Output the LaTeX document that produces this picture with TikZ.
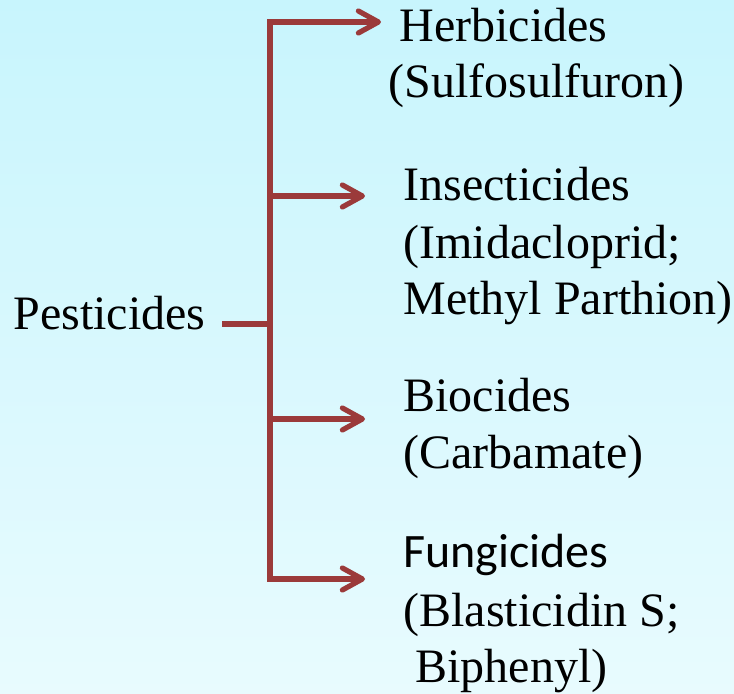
\documentclass[tikz,border=0pt]{standalone}
\usepackage{fontspec}
\setmainfont{Liberation Serif}
\newfontfamily\calib{Carlito}
\usetikzlibrary{arrows.meta}
\definecolor{bgtop}{RGB}{200,245,253}
\definecolor{bgbot}{RGB}{232,251,254}
\definecolor{conncol}{RGB}{155,58,58}
\tikzset{
  txt/.style={inner sep=0pt, anchor=base west, font=\fontsize{24}{28}\selectfont},
  conn/.style={draw=conncol, line width=2.6pt, line join=miter},
  tip/.style={-{Straight Barb[length=10pt,width=11pt,round]}},
  tips/.style={{Straight Barb[length=10pt,width=11pt,round]}-{Straight Barb[length=10pt,width=11pt,round]}}
}
\begin{document}
\begin{tikzpicture}[x=0.5pt,y=-0.5pt]
\shade[top color=bgtop, bottom color=bgbot] (0,0) rectangle (734,694);
\useasboundingbox (0,0) rectangle (734,694);
% texts
\node[txt] (pest) at (13,330) {Pesticides};
\node[txt] (herb1) at (399,42) {Herbicides};
\node[txt] (herb2) at (388,98) {(Sulfosulfuron)};
\node[txt] (ins1) at (403,201) {Insecticides};
\node[txt] (ins2) at (403,259) {(Imidacloprid;};
\node[txt] (ins3) at (403,315) {Methyl Parthion)};
\node[txt] (bio1) at (403,412) {Biocides};
\node[txt] (bio2) at (403,469) {(Carbamate)};
\node[txt, font=\calib\fontsize{24}{28}\selectfont] (fun1) at (403,568) {Fungicides};
\node[txt] (fun2) at (403,627) {(Blasticidin S;};
\node[txt] (fun3) at (403,683) {\ Biphenyl)};
% junctions and tips
\coordinate (jH) at (270,22);
\coordinate (jI) at (270,196);
\coordinate (jP) at (270,324);
\coordinate (jB) at (270,419);
\coordinate (jF) at (270,579);
\coordinate (tH) at (381,22);
\coordinate (tI) at (365,196);
\coordinate (tB) at (365,419);
\coordinate (tF) at (365,579);
\coordinate (pS) at (222,324);
% connectors
\draw[conn, tips] (tH) -- (jH) -- (jF) -- (tF);
\draw[conn, tip] (jI) -- (tI);
\draw[conn, tip] (jB) -- (tB);
\draw[conn] (pS) -- (jP);
\end{tikzpicture}
\end{document}
